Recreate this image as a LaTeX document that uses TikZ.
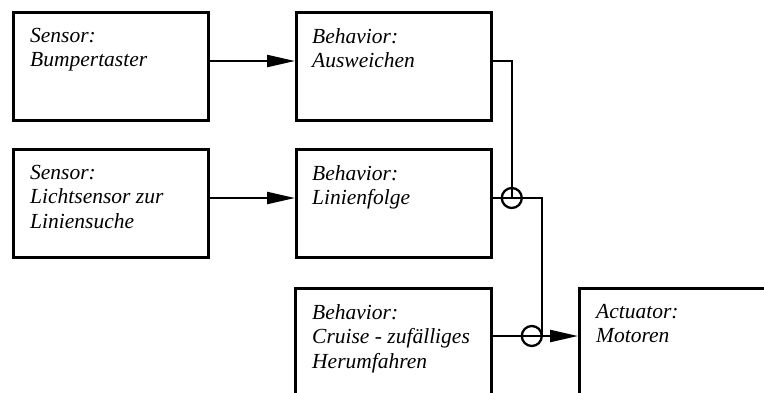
\documentclass[tikz,border=0pt]{standalone}
\usepackage{fontspec}
\setmainfont{Liberation Serif}
\usetikzlibrary{arrows.meta,calc}
\begin{document}
\begin{tikzpicture}[x=1pt,y=-1pt,
  box/.style={draw, line width=2.8pt, rectangle, anchor=north west, inner sep=0pt},
  lbl/.style={anchor=north west, align=left, inner sep=0pt, font=\fontsize{21.5}{24.5}\selectfont\itshape},
  conn/.style={line width=2.3pt},
  arr/.style={line width=2.3pt, -{Triangle[length=28pt,width=12pt]}},
  junc/.style={circle, draw, line width=2.3pt, minimum size=20pt, inner sep=0pt}]
\useasboundingbox (0,0) rectangle (764,392);
\clip (0,0) rectangle (764,392);
% boxes
\node[box, minimum width=195pt, minimum height=108pt] (s1) at (12,11) {};
\node[box, minimum width=195pt, minimum height=108pt] (b1) at (295,11) {};
\node[box, minimum width=195pt, minimum height=108pt] (s2) at (12,148) {};
\node[box, minimum width=195pt, minimum height=108pt] (b2) at (295,148) {};
\node[box, minimum width=196pt, minimum height=200pt] (b3) at (294,287) {};
\node[box, minimum width=300pt, minimum height=200pt] (act) at (578,287) {};
% texts
\node[lbl] (ts1) at ($(s1.north west)+(18,17)$) {Sensor:\\Bumpertaster};
\node[lbl] (tb1) at ($(b1.north west)+(17,17)$) {Behavior:\\Ausweichen};
\node[lbl] (ts2) at ($(s2.north west)+(18,17)$) {Sensor:\\Lichtsensor zur\\Liniensuche};
\node[lbl] (tb2) at ($(b2.north west)+(17,17)$) {Behavior:\\Linienfolge};
\node[lbl] (tb3) at ($(b3.north west)+(18,17)$) {Behavior:\\Cruise - zufälliges\\Herumfahren};
\node[lbl] (tact) at ($(act.north west)+(18,17)$) {Actuator:\\Motoren};
% connection points
\coordinate (s1o) at ($(s1.north east)+(0,50)$);
\coordinate (b1i) at ($(b1.north west)+(0,50)$);
\coordinate (s2o) at ($(s2.north east)+(0,50)$);
\coordinate (b2i) at ($(b2.north west)+(0,50)$);
\coordinate (b1o) at ($(b1.north east)+(0,50)$);
\coordinate (b2o) at ($(b2.north east)+(0,50)$);
\coordinate (b3o) at ($(b3.north east)+(0,49)$);
\coordinate (acti) at ($(act.north west)+(0,49)$);
\node[junc] (j1) at ($(b2o)+(19,0)$) {};
\node[junc] (j2) at ($(b3o)+(39,0)$) {};
% arrows
\draw[arr] (s1o) -- (b1i);
\draw[arr] (s2o) -- (b2i);
\draw[conn] (b1o) -| (j1.center);
\draw[conn] (b2o) -- (j1.east) -- ++(19,0) |- (j2.center);
\draw[arr] (b3o) -- (acti);
\end{tikzpicture}
\end{document}
